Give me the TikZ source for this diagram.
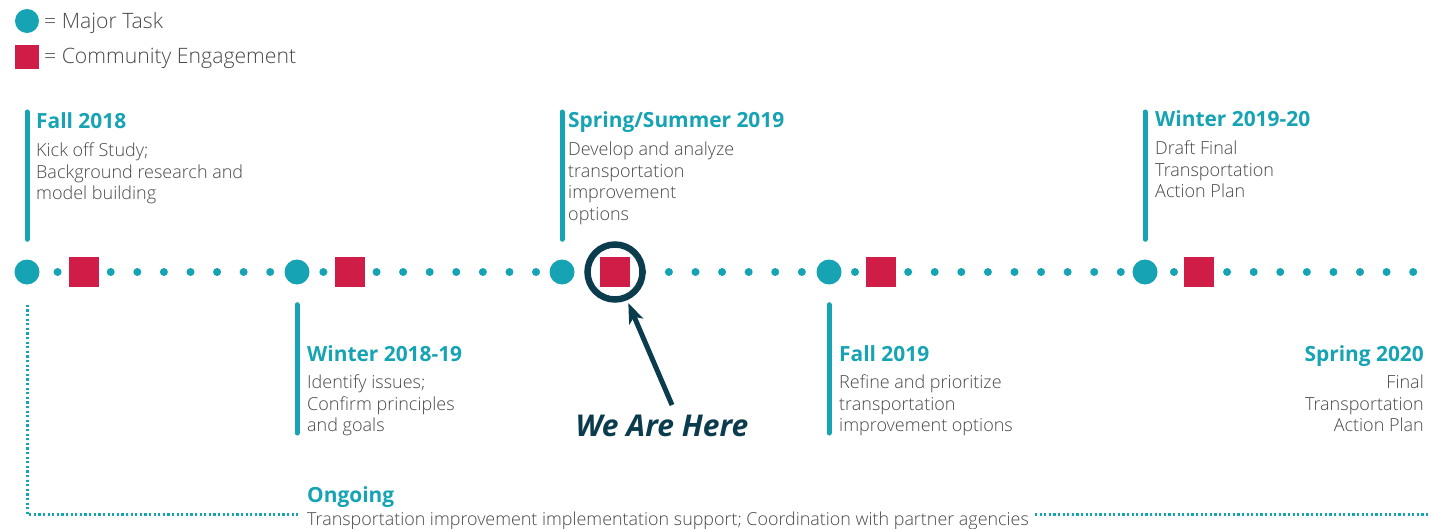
\documentclass[tikz,border=0pt]{standalone}
\usepackage{fontspec}
\setmainfont{Open Sans}
\IfFontExistsTF{Open Sans Light}
  {\newfontfamily\bodyfont{Open Sans Light}\newcommand\bodysize{18}\newcommand\legsize{21.2}}
  {\newfontfamily\bodyfont{Open Sans}\newcommand\bodysize{17.3}\newcommand\legsize{20.4}}
\IfFontExistsTF{Open Sans SemiBold}
  {\newfontfamily\headfont{Open Sans SemiBold}\newcommand\headsize{22}}
  {\newfontfamily\headfont{Open Sans Bold}\newcommand\headsize{20.9}}
\usetikzlibrary{arrows.meta,positioning}

\definecolor{taskteal}{RGB}{22,163,179}
\definecolor{engagered}{RGB}{208,29,71}
\definecolor{herenavy}{RGB}{11,60,78}
\definecolor{bodygrey}{RGB}{72,72,72}

\begin{document}
\begin{tikzpicture}[
  x=1pt,
  y=-1pt,
  majortask/.style={
    circle,
    fill=taskteal,
    minimum size=25pt,
    inner sep=0pt
  },
  engage/.style={
    rectangle,
    fill=engagered,
    minimum size=30pt,
    inner sep=0pt
  },
  stem/.style={
    line width=5pt,
    draw=taskteal,
    line cap=round
  },
  phase/.style={
    font=\headfont\fontsize{\headsize}{26}\selectfont,
    text=taskteal,
    inner sep=0pt,
    anchor=base west
  },
  desc/.style={
    font=\bodyfont\fontsize{\bodysize}{21.5}\selectfont,
    text=bodygrey,
    inner sep=0pt,
    align=left,
    anchor=north west
  },
  legtext/.style={
    font=\bodyfont\fontsize{\legsize}{24}\selectfont,
    text=bodygrey,
    inner sep=0pt,
    anchor=base west
  },
  ongoingline/.style={
    draw=taskteal,
    line width=3pt,
    dash pattern=on 2.2pt off 2.4pt
  },
  arrow/.style={
    -{Stealth[length=20pt,width=15pt,inset=5pt]},
    line width=5pt,
    draw=herenavy
  }
]
\useasboundingbox (0,0) rectangle (1431,529);

% Legend
\node[majortask, minimum size=24pt] (legdot) at (27,21) {};
\node[engage, minimum size=24pt] (legsq) at (27,57) {};
\node[legtext] (legtask) at (44,29) {= Major Task};
\node[legtext] (legcomm) at (44,64) {= Community Engagement};

% Dotted timeline
\foreach \k in {0,...,52}
  \fill[taskteal] (31+26.58*\k,272) circle (4pt);

% Major tasks
\node[majortask] (d1) at (27,272) {};
\node[majortask] (d2) at (297,272) {};
\node[majortask] (d3) at (562,272) {};
\node[majortask] (d4) at (829,272) {};
\node[majortask] (d5) at (1145,272) {};

% Community engagement
\node[engage] (s1) at (84,272) {};
\node[engage] (s2) at (350,272) {};
\node[draw=herenavy, line width=6.5pt, fill=white, circle, minimum size=55pt, inner sep=0pt] (ring) at (615,272) {};
\node[engage] (s3) at (615,272) {};
\node[engage] (s4) at (881,272) {};
\node[engage] (s5) at (1199,272) {};

% Stems
\coordinate (t1) at (27,112);
\coordinate (t2) at (297,433);
\coordinate (t3) at (562,112);
\coordinate (t4) at (829,433);
\coordinate (t5) at (1145,112);
\draw[stem, shorten >=20pt] (t1) -- (d1);
\draw[stem, shorten >=20pt] (t2) -- (d2);
\draw[stem, shorten >=20pt] (t3) -- (d3);
\draw[stem, shorten >=20pt] (t4) -- (d4);
\draw[stem, shorten >=20pt] (t5) -- (d5);

% Phases above the line
\node[phase] (p1) at (36,129) {Fall 2018};
\node[desc] (b1) at (36,143) {Kick off Study;\\Background research and\\model building};
\node[phase] (p3) at (568,128) {Spring/Summer 2019};
\node[desc] (b3) at (568,142) {Develop and analyze\\transportation\\improvement\\options};
\node[phase] (p5) at (1155,127) {Winter 2019-20};
\node[desc] (b5) at (1155,141) {Draft Final\\Transportation\\Action Plan};

% Phases below the line
\node[phase] (p2) at (307,361) {Winter 2018-19};
\node[desc] (b2) at (307,375) {Identify issues;\\Confirm principles\\and goals};
\node[phase] (p4) at (839,361) {Fall 2019};
\node[desc] (b4) at (839,375) {Refine and prioritize\\transportation\\improvement options};
\node[phase, anchor=base east] (p6) at (1424,361) {Spring 2020};
\node[desc, align=right, anchor=north east] (b6) at (1424,375) {Final\\Transportation\\Action Plan};

% We are here
\node[font=\fontsize{30}{36}\selectfont\bfseries\itshape, text=herenavy, inner sep=0pt, anchor=base] (here) at (662,436) {We Are Here};
\coordinate (hstart) at (672,405);
\draw[arrow, shorten >=3pt] (hstart) -- (ring);

% Ongoing
\node[phase] (p7) at (307,502) {Ongoing};
\node[legtext, font=\bodyfont\fontsize{17.9}{21.5}\selectfont] (b7) at (307,525) {Transportation improvement implementation support; Coordination with partner agencies};
\coordinate (o1) at (300,514);
\coordinate (o2) at (1035,514);
\coordinate (o3) at (1429,514);
\draw[ongoingline, shorten <=20pt] (d1) |- (o1);
\draw[ongoingline] (o2) -- (o3);

\end{tikzpicture}
\end{document}
